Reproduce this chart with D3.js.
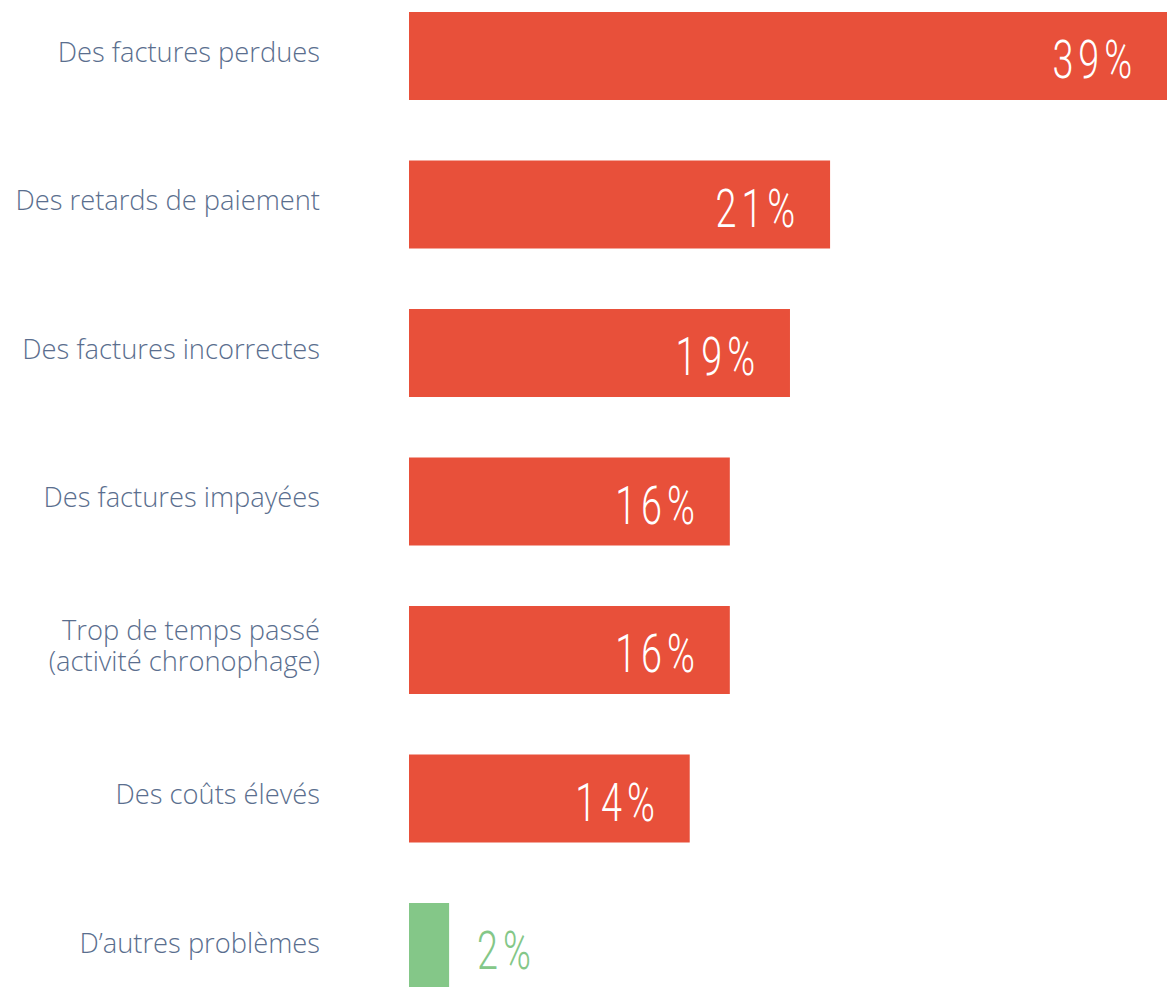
<!DOCTYPE html>
<html>
<head>
<meta charset="utf-8">
<script src="https://cdn.jsdelivr.net/npm/d3@7"></script>
<style>
  html, body { margin: 0; padding: 0; background: #fff; overflow: hidden; }
  .lbl { font-family: "Open Sans", "Lato", sans-serif; font-weight: 300; font-size: 27.3px; fill: #5a6e8e; }
  .val { font-family: Roboto, "DejaVu Sans", sans-serif; font-weight: 300; font-size: 54px; letter-spacing: 7px; }
</style>
</head>
<body>
<svg id="chart" width="1167" height="987"></svg>
<script>
// problemes lies a la facturation
var categories = [
    ["Des factures perdues"],
    ["Des retards de paiement"],
    ["Des factures incorrectes"],
    ["Des factures impayées"],
    ["Trop de temps passé", "(activité chronophage)"],
    ["Des coûts élevés"],
    ["D’autres problèmes"]
];
var values = [39, 21, 19, 16, 16, 14, 2];
var highlight = [true, true, true, true, true, true, false]; // rouge = probleme principal

var svg = d3.select("#chart");
var width = +svg.attr("width");
var red = "#e8503a", green = "#84c788";

var x = d3.scaleLinear()
    .domain([0, 39])
    .range([409, 1191]);

var y = d3.scaleBand()
    .domain(d3.range(categories.length))
    .range([12, 991])
    .paddingInner(60.5 / 148.5)
    .paddingOuter(0);

var rows = svg.selectAll("g.row")
    .data(values)
    .enter().append("g")
    .attr("class", "row");

rows.append("rect")
    .attr("x", x(0))
    .attr("y", function (d, i) { return y(i); })
    .attr("width", function (d) { return x(d) - x(0); })
    .attr("height", y.bandwidth())
    .attr("fill", function (d, i) { return highlight[i] ? red : green; });

rows.append("text")
    .attr("class", "lbl")
    .attr("text-anchor", "end")
    .attr("x", 320)
    .attr("y", function (d, i) {
        var n = categories[i].length;
        return y(i) + y.bandwidth() / 2 - (n - 1) * 15.5 - 4;
    })
    .each(function (d, i) {
        var t = d3.select(this);
        categories[i].forEach(function (line, k) {
            t.append("tspan")
                .attr("x", 320)
                .attr("dy", k == 0 ? "0.35em" : "31px")
                .text(line);
        });
    });

// valeurs en police etroite : on compresse horizontalement
var sx = 0.7;
rows.append("text")
    .attr("class", "val")
    .attr("transform", function (d, i) {
        var tx = highlight[i] ? Math.min(x(d), width) - 30 : x(d) + 28;
        var ty = y(i) + y.bandwidth() / 2 + 22;
        return "translate(" + tx + "," + ty + ") scale(" + sx + ",1)";
    })
    .attr("text-anchor", function (d, i) { return highlight[i] ? "end" : "start"; })
    .attr("fill", function (d, i) { return highlight[i] ? "#fff" : green; })
    .text(function (d) { return d + "%"; });
</script>
</body>
</html>
